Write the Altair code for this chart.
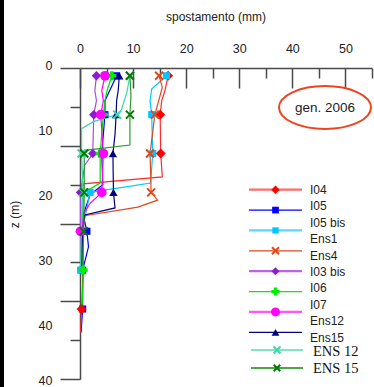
import altair as alt
import pandas as pd

# ------------------------------------------------------------------ data
series = ["I04", "I05", "I05 bis", "Ens4", "I03 bis", "I06", "I07", "Ens12", "ENS 12", "ENS 15"]

# depth z (m) and displacement x (mm) along each profile; *_mk = depths carrying a marker
i04_z = [1, 2.9, 4.2, 6, 11, 14, 14.9, 21, 26, 31, 34]
i04_x = [16.6, 16.0, 15.4, 15.1, 15.2, 15.5, 0.6, 0.5, 0.6, 0.3, 0.1]
i04_mk = [1, 6, 11, 31]

i05_z = [1, 2.9, 4.2, 6, 11, 15, 16.3, 18.9, 21, 23, 26, 31, 34]
i05_x = [6.9, 5.6, 4.7, 4.7, 4.1, 4.3, 1.9, 0.6, 1.3, 1.6, 0.5, 0.5, 0.2]
i05_mk = [1, 6, 11, 21, 26, 31]

i05b_z = [1, 2.7, 4.2, 6, 11, 14.8, 16, 21, 26]
i05b_x = [16.3, 13.5, 13.2, 13.5, 13.7, 13.3, 1.9, 0.4, 0.1]
i05b_mk = [1, 6, 11, 16, 26]

ens4_z = [1, 2.5, 4, 6, 11, 16, 17, 17.9, 19, 21, 26]
ens4_x = [14.9, 15.5, 14.9, 14.1, 13.2, 13.4, 14.6, 10.9, 0.9, 0.5, 0.3]
ens4_mk = [1, 6, 11, 16]

i03b_z = [1, 2.9, 4.2, 6, 11, 12.5, 16, 21, 26]
i03b_x = [3.1, 2.8, 3.1, 2.6, 2.4, 0.9, 0.1, 0.1, 0.3]
i03b_mk = [1, 6, 11, 16, 21]

i06_z = [1, 2.9, 4.2, 6, 11, 14.8, 16.1, 21, 26, 31]
i06_x = [6.0, 5.1, 4.7, 4.4, 3.8, 3.8, 0.5, 0.4, 0.6, 0.4]
i06_mk = [1, 6, 11, 26]

i07_z = [1, 2.9, 4.2, 6, 11, 16, 17.4, 18.5, 21, 26]
i07_x = [4.7, 4.1, 4.4, 3.9, 4.4, 4.1, 1.9, 0.9, 0.1, 0.2]
i07_mk = [1, 6, 11, 16, 21]

ens12_z = [1, 2.9, 4.2, 6, 8.5, 11, 16, 18, 18.9, 21, 26]
ens12_x = [7.4, 7.2, 6.9, 6.8, 6.6, 6.2, 6.3, 6.6, 0.9, 0.5, 0.3]
ens12_mk = [1, 6, 11, 16]

ENS12_z = [1, 3.2, 5.4, 6, 6.9, 7.8, 11, 16, 21, 26]
ENS12_x = [9.4, 8.8, 7.8, 7.0, 2.5, 0.3, 0.3, 0.6, 0.2, 0.1]
ENS12_mk = [1, 6, 11, 16]

ENS15_z = [1, 3.5, 6, 9.9, 10.6, 11, 16, 21, 26]
ENS15_x = [9.4, 9.6, 9.4, 9.4, 0.9, 0.8, 0.8, 0.7, 0.5]
ENS15_mk = [1, 6, 11, 16, 21]

legend_labels = ["I04", "I05", "I05 bis", "Ens1", "Ens4", "I03 bis", "I06", "I07", "Ens12", "Ens15"]
legend_labels_serif = ["ENS 12", "ENS 15"]
x_tick_labels = [0, 10, 20, 30, 40, 50]
z_tick_labels = [0, 10, 20, 30, 40]
note_text = "gen. 2006"
x_title = "spostamento (mm)"
z_title = "z (m)"

PROFILES = {
    "I04": (i04_z, i04_x, i04_mk),
    "I05": (i05_z, i05_x, i05_mk),
    "I05 bis": (i05b_z, i05b_x, i05b_mk),
    "Ens4": (ens4_z, ens4_x, ens4_mk),
    "I03 bis": (i03b_z, i03b_x, i03b_mk),
    "I06": (i06_z, i06_x, i06_mk),
    "I07": (i07_z, i07_x, i07_mk),
    "Ens12": (ens12_z, ens12_x, ens12_mk),
    "ENS 12": (ENS12_z, ENS12_x, ENS12_mk),
    "ENS 15": (ENS15_z, ENS15_x, ENS15_mk),
}

# ------------------------------------------------------------------ styles
XPATH = "M-1,-1L1,1M-1,1L1,-1"
STYLE = {
    "I04":     dict(shape="diamond", size=100, mc="#ff0000", lc="#ff2a2a", llc="#ff6a6a", llw=2.2, leg_size=70),
    "I05":     dict(shape="square", size=50, mc="#0000ff", lc="#0000ff", llc="#0000ff", llw=1.3, leg_size=45),
    "I05 bis": dict(shape="square", size=50, mc="#00c8ff", lc="#00c8ff", llc="#55d8ff", llw=2.2, leg_size=40),
    "Ens4":    dict(shape="X", size=64, mc="#e0481c", lc="#e0481c", llc="#e0481c", llw=1.3, leg_size=49),
    "I03 bis": dict(shape="diamond", size=90, mc="#8c1cd0", lc="#a94ce0", llc="#b866e6", llw=2.2, leg_size=64),
    "I06":     dict(shape="cross", size=80, mc="#00ee00", lc="#00dd00", llc="#00ee00", llw=1.3, leg_size=64),
    "I07":     dict(shape="circle", size=95, mc="#ff00ff", lc="#ff00ff", llc="#ff55ff", llw=2.2, leg_size=80),
    "Ens12":   dict(shape="triangle-up", size=70, mc="#000080", lc="#000080", llc="#000080", llw=1.3, leg_size=60),
    "ENS 12":  dict(shape="X", size=64, mc="#3cd8a8", lc="#3cd8a8", llc="#7ee6c6", llw=2.2, leg_size=49),
    "ENS 15":  dict(shape="X", size=64, mc="#007a00", lc="#2f9a2f", llc="#4aa84a", llw=2.2, leg_size=42),
}
FONT = "Liberation Sans"
SERIF = "Liberation Serif"
AX = "#4a4a4a"
TXT = "#222222"

# ------------------------------------------------------------------ layout
W, H = 292, 311          # plot area (pixels)
XMAX, ZMAX = 55, 40
PXM = W / XMAX           # pixels per mm
PZM = H / ZMAX           # pixels per m
LAB_MAX = H / 6.5        # domain of the (misaligned) label axis


def dx(px):  # plot-relative pixel -> mm
    return px / PXM


def dz(py):  # plot-relative pixel -> m
    return py / PZM


line_order = ["I05", "I04", "I05 bis", "Ens4", "I03 bis", "I06", "I07", "Ens12", "ENS 12", "ENS 15"]

line_rows = []
filled_rows = []
x_rows = []
for s in line_order:
    zs, xv, mk = PROFILES[s]
    st = STYLE[s]
    for i, (z, x) in enumerate(zip(zs, xv)):
        line_rows.append(dict(s=s, z=z, x=x, o=i, lc=st["lc"], lw=1.2))
    for z in mk:
        x = xv[zs.index(z)]
        row = dict(s=s, z=z, x=x, mc=st["mc"], sz=st["size"])
        if st["shape"] == "X":
            x_rows.append(row)
        else:
            row["sh"] = st["shape"]
            filled_rows.append(row)

# legend (placed in plot-relative pixel layout converted to data units)
rule_rows = []
sans_rows = []
serif_rows = []
for i, s in enumerate(series):
    st = STYLE[s]
    if i < 8:
        py = 189.7 + 20.37 * i - 68
        x1, x2, xm = 169, 222, 195.5
    else:
        py = [350, 368][i - 8] - 68
        x1, x2, xm = 171, 223, 197
    rule_rows.append(dict(x=dx(x1), x2=dx(x2), z=dz(py), lc=st["llc"], lw=st["llw"]))
    row = dict(s=s, z=dz(py), x=dx(xm), mc=st["mc"], sz=st["leg_size"])
    if st["shape"] == "X":
        x_rows.append(row)
    else:
        row["sh"] = st["shape"]
        filled_rows.append(row)
for i, t in enumerate(legend_labels):
    sans_rows.append(dict(x=dx(230), z=dz(190 + 16.4 * i - 68), t=t))
for i, t in enumerate(legend_labels_serif):
    serif_rows.append(dict(x=dx(233), z=dz([351.7, 369.3][i] - 68), t=t))

df_lines = pd.DataFrame(line_rows)
df_filled = pd.DataFrame(filled_rows)
df_x = pd.DataFrame(x_rows)
df_rules = pd.DataFrame(rule_rows)
df_sans = pd.DataFrame(sans_rows)
df_serif = pd.DataFrame(serif_rows)
df_note = pd.DataFrame([dict(x=dx(245), z=dz(39.5), t=note_text)])
# dark strip along the left edge of the picture (page frame), in plot units
df_frame = pd.DataFrame([dict(x=dx(-80), x2=dx(-76), z=dz(-68), z2=dz(H + 8))])

# ------------------------------------------------------------------ scales / axes
xs = alt.Scale(domain=[0, XMAX], nice=False, zero=False, clamp=False)
ys = alt.Scale(domain=[0, ZMAX], reverse=True, nice=False, zero=False, clamp=False)

top_axis = alt.Axis(
    orient="top", values=x_tick_labels, ticks=False, domain=True,
    domainColor=AX, domainWidth=1.5, grid=False,
    labelFont=FONT, labelFontSize=12.5, labelColor=TXT, labelPadding=13,
    labelFlush=False, labelOverlap=False,
    title=x_title, titleFont=FONT, titleFontSize=12, titleFontWeight="normal",
    titleColor=TXT, titleX=135.5, titleY=-47.5, titleAlign="center",
    titleBaseline="alphabetic",
)
left_axis = alt.Axis(
    orient="left", values=list(range(0, 41, 5)), labels=False, ticks=True,
    tickSize={"condition": {"test": "datum.value % 10 === 0", "value": 20}, "value": 10},
    tickColor=AX, tickWidth=1.5, domainColor=AX, domainWidth=1.5, title=None, grid=False,
)
tick_axis = alt.Axis(
    orient="bottom", offset=-H, values=list(range(0, 56, 5)), labels=False,
    domain=False, ticks=True,
    tickSize={"condition": {"test": "datum.value % 10 === 0", "value": 20}, "value": 10},
    tickColor=AX, tickWidth=1.5, title=None, grid=False,
)
lab_axis = alt.Axis(
    orient="left", values=z_tick_labels + [LAB_MAX], ticks=False, domain=False,
    grid=False, labelPadding=28,
    labelExpr="datum.value > 45 ? '40' : datum.label",
    labelOffset={"condition": {"test": "datum.value > 45", "value": 1}, "value": -3},
    labelFont=FONT, labelFontSize=12.5, labelColor=TXT,
    labelFlush=False, labelOverlap=False,
    title=z_title, titleFont=FONT, titleFontSize=12, titleFontWeight="normal",
    titleColor=TXT, titleX=-66, titleY=146, titleAngle=270,
    titleAlign="center", titleBaseline="middle",
)

X = alt.X("x:Q", scale=xs, axis=top_axis)
Y = alt.Y("z:Q", scale=ys, axis=left_axis)

lines = alt.Chart(df_lines).mark_line().encode(
    x=X, y=Y, detail="s:N", order="o:Q",
    color=alt.Color("lc:N", scale=None),
    strokeWidth=alt.StrokeWidth("lw:Q", scale=None),
)
leg_rules = alt.Chart(df_rules).mark_rule().encode(
    x=X, x2="x2:Q", y=Y,
    color=alt.Color("lc:N", scale=None),
    strokeWidth=alt.StrokeWidth("lw:Q", scale=None),
)
filled = alt.Chart(df_filled).mark_point(filled=True, opacity=1, strokeWidth=0).encode(
    x=X, y=Y,
    shape=alt.Shape("sh:N", scale=None),
    size=alt.Size("sz:Q", scale=None),
    color=alt.Color("mc:N", scale=None),
)
xmarks = alt.Chart(df_x).mark_point(filled=False, opacity=1, strokeWidth=2, shape=XPATH).encode(
    x=X, y=Y,
    size=alt.Size("sz:Q", scale=None),
    color=alt.Color("mc:N", scale=None),
)
sans = alt.Chart(df_sans).mark_text(
    align="left", baseline="middle", font=FONT, fontSize=12, color=TXT
).encode(x=X, y=Y, text="t:N")
serif = alt.Chart(df_serif).mark_text(
    align="left", baseline="middle", font=SERIF, fontSize=14.5, color="#111111"
).encode(x=X, y=Y, text="t:N")

ELLIPSE = ("M1,0 C1,0.258 0.552,0.467 0,0.467 C-0.552,0.467 -1,0.258 -1,0 "
           "C-1,-0.258 -0.552,-0.467 0,-0.467 C0.552,-0.467 1,-0.258 1,0 Z")
ellipse = alt.Chart(df_note).mark_point(
    shape=ELLIPSE, size=92 * 92, filled=False, strokeWidth=2, color="#ee4422", opacity=1
).encode(x=X, y=Y)
note = alt.Chart(df_note).mark_text(
    align="center", baseline="middle", font=FONT, fontSize=13.5, color=TXT
).encode(x=X, y=Y, text="t:N")

frame = alt.Chart(df_frame).mark_rect(color="#000000", opacity=1, clip=False).encode(
    x=X, x2="x2:Q", y=Y, y2="z2:Q"
)

main = alt.layer(lines, leg_rules, filled, xmarks, sans, serif, ellipse, note, frame)

tick_layer = alt.Chart(pd.DataFrame({"x": [0]})).mark_point(opacity=0).encode(
    x=alt.X("x:Q", scale=xs, axis=tick_axis)
)
lab_layer = alt.Chart(pd.DataFrame({"z": [0]})).mark_point(opacity=0).encode(
    y=alt.Y("z:Q", scale=alt.Scale(domain=[0, LAB_MAX], reverse=True, nice=False, zero=False),
            axis=lab_axis)
)

chart = alt.layer(main, tick_layer, lab_layer).resolve_scale(
    x="independent", y="independent"
).properties(
    width=W, height=H,
    padding={"left": 80, "top": 68, "right": 2, "bottom": 8},
    autosize=alt.AutoSizeParams(type="none"),
    background="#ffffff",
).configure_view(stroke=None)

chart.save("out.html", embed_options={"renderer": "svg", "actions": False})
